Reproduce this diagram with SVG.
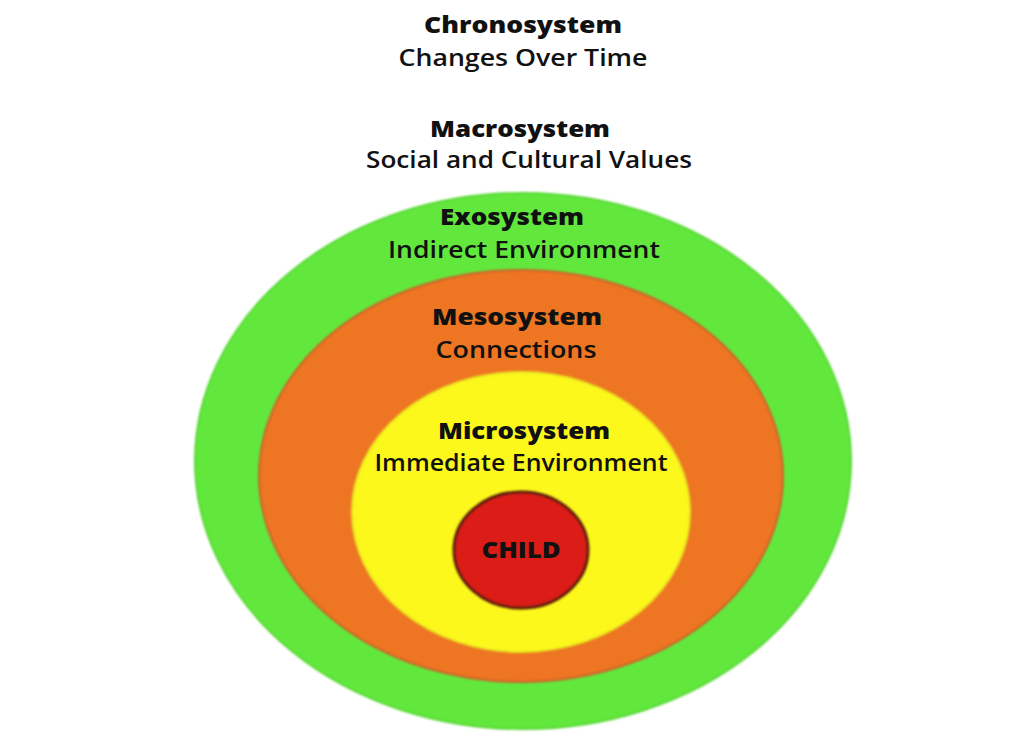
<svg xmlns="http://www.w3.org/2000/svg" width="1016" height="737" viewBox="0 0 1016 737">
  <style>
    .title { font-family: "Open Sans", "Liberation Sans", sans-serif; font-weight: 800; font-size: 23px; fill: #111; text-anchor: middle; }
    .sub { font-family: "Open Sans", "Liberation Sans", sans-serif; font-weight: 600; font-size: 23px; fill: #111; text-anchor: middle; }
    .ring { stroke-width: 2; }
  </style>
  <defs>
    <filter id="soft" x="-5%" y="-5%" width="110%" height="110%">
      <feGaussianBlur stdDeviation="1"/>
    </filter>
  </defs>
  <rect width="1016" height="737" fill="#ffffff"/>

  <!-- outer labels -->
  <g id="chronosystem">
    <text class="title" x="523" y="33" textLength="198" lengthAdjust="spacingAndGlyphs">Chronosystem</text>
    <text class="sub" x="523" y="66" textLength="249" lengthAdjust="spacingAndGlyphs">Changes Over Time</text>
  </g>
  <g id="macrosystem">
    <text class="title" x="520" y="137" textLength="180" lengthAdjust="spacingAndGlyphs">Macrosystem</text>
    <text class="sub" x="529" y="168" textLength="326" lengthAdjust="spacingAndGlyphs">Social and Cultural Values</text>
  </g>

  <!-- nested rings -->
  <g id="exosystem">
    <ellipse class="ring" cx="523" cy="461" rx="328" ry="268" fill="#62e83c" stroke="#58d836" filter="url(#soft)"/>
    <text class="title" x="512" y="225" textLength="144" lengthAdjust="spacingAndGlyphs">Exosystem</text>
    <text class="sub" x="524" y="258" textLength="272" lengthAdjust="spacingAndGlyphs">Indirect Environment</text>
  </g>
  <g id="mesosystem">
    <ellipse class="ring" cx="521" cy="476" rx="262" ry="206" fill="#ee7424" stroke="#c9652a" filter="url(#soft)"/>
    <text class="title" x="517" y="325" textLength="170" lengthAdjust="spacingAndGlyphs">Mesosystem</text>
    <text class="sub" x="516" y="358" textLength="161" lengthAdjust="spacingAndGlyphs">Connections</text>
  </g>
  <g id="microsystem">
    <ellipse class="ring" cx="521" cy="512" rx="169" ry="140" fill="#fcf81a" stroke="#e9e420" filter="url(#soft)"/>
    <text class="title" x="524" y="439" textLength="172" lengthAdjust="spacingAndGlyphs">Microsystem</text>
    <text class="sub" x="521" y="471" textLength="293" lengthAdjust="spacingAndGlyphs">Immediate Environment</text>
  </g>
  <g id="child">
    <ellipse cx="521" cy="550" rx="67" ry="58" fill="#dc1a14" stroke="#5a1a10" stroke-width="3" filter="url(#soft)"/>
    <text class="title" x="521" y="558" font-size="22" textLength="79" lengthAdjust="spacingAndGlyphs">CHILD</text>
  </g>

  <!-- no connectors in this diagram -->
  <g id="connectors"/>
</svg>
